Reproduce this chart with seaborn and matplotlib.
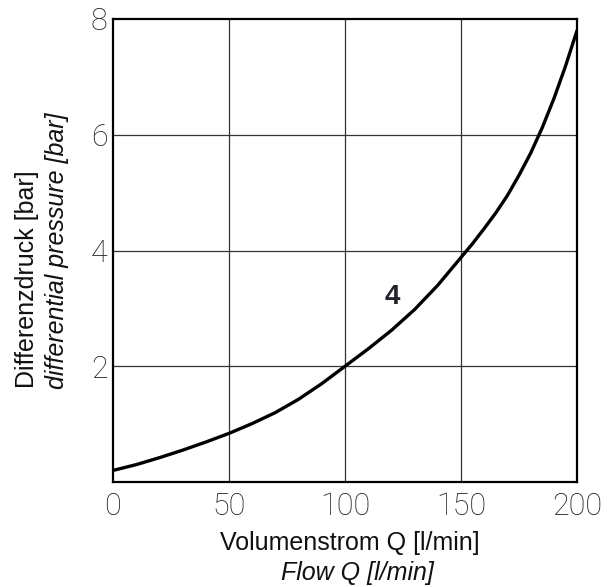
import numpy as np
import pandas as pd
import matplotlib
matplotlib.use("Agg")
import matplotlib.pyplot as plt
import seaborn as sns

# values
flow = [0, 10, 20, 30, 40, 50, 60, 70, 80, 90, 100,
        110, 120, 130, 140, 150, 155, 160, 165, 170, 175, 180, 185, 190, 195, 200]
dp = [0.20, 0.30, 0.42, 0.55, 0.69, 0.84, 1.01, 1.20, 1.43, 1.70, 2.00,
      2.30, 2.62, 2.98, 3.40, 3.88, 4.12, 4.38, 4.65, 4.95, 5.30, 5.68, 6.12,
      6.62, 7.18, 7.80]
x_ticks = [0, 50, 100, 150, 200]
y_ticks = [2, 4, 6, 8]
curve_label = "4"

sns.set_style("white")
plt.rcParams["font.family"] = ["Liberation Sans", "DejaVu Sans"]

W, H = 609, 587
fig = plt.figure(figsize=(W / 100, H / 100), dpi=100)
ax = fig.add_axes([113 / W, 1 - 482 / H, 464 / W, 463 / H])

df = pd.DataFrame({"flow": flow, "dp": dp})
sns.lineplot(data=df, x="flow", y="dp", ax=ax, color="black", linewidth=2.4,
             solid_joinstyle="round", solid_capstyle="round", zorder=3)

ax.set_xlim(0, 200)
ax.set_ylim(0, 8)
ax.set_xticks(x_ticks)
ax.set_yticks(y_ticks)
ax.set_xlabel("")
ax.set_ylabel("")

# interior grid only
for gx in x_ticks[1:-1]:
    ax.axvline(gx, color="#333333", lw=0.9, zorder=1)
for gy in y_ticks[:-1]:
    ax.axhline(gy, color="#333333", lw=0.9, zorder=1)

for s in ax.spines.values():
    s.set_visible(True)
    s.set_color("black")
    s.set_linewidth(1.6)

ax.tick_params(length=0, colors="#1e1e1e")
ax.tick_params(axis="x", pad=7)
ax.tick_params(axis="y", pad=4)
for lab in ax.get_xticklabels() + ax.get_yticklabels():
    lab.set_fontfamily(["Roboto", "Liberation Sans"])
    lab.set_fontweight("light")
    lab.set_fontsize(22)

ax.text(120.3, 3.2, curve_label, fontsize=20, fontweight="bold", color="#23232f",
        ha="center", va="center")

# axis titles, two lines each
fig.text(350 / W, 1 - 543 / H, "Volumenstrom Q [l/min]", fontsize=18,
         ha="center", va="center", color="#111111")
fig.text(357 / W, 1 - 573 / H, "Flow Q [l/min]", fontsize=18, style="italic",
         ha="center", va="center", color="#111111")
fig.text(27 / W, 1 - 388 / H, "Differenzdruck [bar]", fontsize=18, rotation=90,
         ha="center", va="bottom", color="#111111")
fig.text(57 / W, 1 - 389 / H, "differential pressure [bar]", fontsize=18,
         style="italic", rotation=90, ha="center", va="bottom", color="#111111")

fig.savefig("out.png", dpi=100)
